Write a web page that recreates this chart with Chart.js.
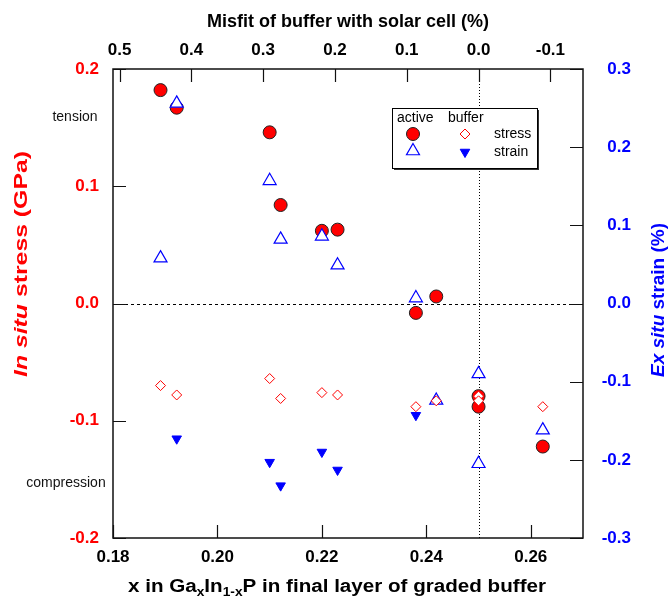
<!DOCTYPE html>
<html><head><meta charset="utf-8">
<script src="https://cdn.jsdelivr.net/npm/chart.js@4.4.1/dist/chart.umd.min.js"></script>
<style>html,body{margin:0;padding:0;background:#fff;}</style>
</head><body>
<canvas id="c" width="668" height="601"></canvas>
<script>
// ---- data ----
const activeStressX = [0.1891, 0.1922, 0.2100, 0.2121, 0.2200, 0.2230, 0.2380, 0.2419, 0.2500, 0.2500, 0.2623];
const activeStressY = [0.182, 0.167, 0.146, 0.084, 0.062, 0.063, -0.008, 0.006, -0.079, -0.088, -0.122]; // GPa
const activeStrainX = [0.1891, 0.1922, 0.2100, 0.2121, 0.2200, 0.2230, 0.2380, 0.2419, 0.2500, 0.2500, 0.2623];
const activeStrainY = [0.058, 0.256, 0.157, 0.082, 0.086, 0.049, 0.007, -0.124, -0.090, -0.205, -0.162]; // %
const bufferStressX = [0.1891, 0.1922, 0.2100, 0.2121, 0.2200, 0.2230, 0.2380, 0.2419, 0.2500, 0.2500, 0.2623];
const bufferStressY = [-0.070, -0.078, -0.064, -0.081, -0.076, -0.078, -0.088, -0.083, -0.079, -0.083, -0.088]; // GPa
const bufferStrainX = [0.1922, 0.2100, 0.2121, 0.2200, 0.2230, 0.2380];
const bufferStrainY = [-0.173, -0.203, -0.233, -0.190, -0.213, -0.143]; // %

// axis ranges / tick steps
const xRange = [0.18, 0.27];
const xStep = 0.02;
const stressRange = [-0.2, 0.2];
const strainRange = [-0.3, 0.3];
const yStep = 0.1;
// top axis: misfit (%) vs composition x (misfit 0 at x = 0.25, 0.1375 x per 1 %)
const misfitZeroX = 0.25;
const xPerMisfitPercent = 0.1375;
const misfitStep = 0.1;
const misfitOf = x => (misfitZeroX - x) / xPerMisfitPercent;

const pts = (xs, ys) => xs.map((x, i) => ({x: x, y: ys[i]}));
const FONT = "'Liberation Sans', Arial, Helvetica, sans-serif";
Chart.defaults.font.family = FONT;

const fmt = d => v => (Math.abs(v) < 1e-9 ? 0 : v).toFixed(d);

// draws a run of text segments with different fonts, optionally stretched to a width
function drawRich(ctx, segs, cx, cy, rot, color, targetW) {
  ctx.save();
  ctx.translate(cx, cy);
  if (rot) ctx.rotate(rot);
  ctx.fillStyle = color;
  ctx.textBaseline = 'alphabetic';
  ctx.textAlign = 'left';
  let w = 0;
  segs.forEach(s => { ctx.font = s.f; w += ctx.measureText(s.t).width; });
  if (targetW) ctx.scale(targetW / w, 1);
  let x = -w / 2;
  segs.forEach(s => { ctx.font = s.f; ctx.fillText(s.t, x, s.dy || 0); x += ctx.measureText(s.t).width; });
  ctx.restore();
}

const decor = {
  id: 'decor',
  beforeDatasetsDraw(chart) {
    const ctx = chart.ctx, a = chart.chartArea, sx = chart.scales.x, sy = chart.scales.y;
    ctx.save();
    ctx.strokeStyle = '#000';
    ctx.lineWidth = 1;
    ctx.setLineDash([3, 3]);
    const y0 = Math.round(sy.getPixelForValue(0)) + 0.5;
    ctx.beginPath(); ctx.moveTo(a.left, y0); ctx.lineTo(a.right, y0); ctx.stroke();
    ctx.setLineDash([1, 2]);
    const x0 = Math.round(sx.getPixelForValue(misfitZeroX)) + 0.5;
    ctx.beginPath(); ctx.moveTo(x0, a.top); ctx.lineTo(x0, a.bottom); ctx.stroke();
    ctx.restore();
  },
  afterDraw(chart) {
    const ctx = chart.ctx, a = chart.chartArea;
    ctx.save();
    // frame
    ctx.strokeStyle = '#111';
    ctx.lineWidth = 1.5;
    ctx.strokeRect(a.left, a.top, a.right - a.left, a.bottom - a.top);
    // inward tick marks
    const TL = 13;
    ctx.lineWidth = 1.2;
    ctx.beginPath();
    ['x', 'x2'].forEach(id => {
      const s = chart.scales[id];
      s.ticks.forEach(t => {
        const p = Math.round(s.getPixelForValue(t.value)) + 0.5;
        if (id === 'x') { ctx.moveTo(p, a.bottom); ctx.lineTo(p, a.bottom - TL); }
        else { ctx.moveTo(p, a.top); ctx.lineTo(p, a.top + TL); }
      });
    });
    ['y', 'y2'].forEach(id => {
      const s = chart.scales[id];
      s.ticks.forEach(t => {
        const p = Math.round(s.getPixelForValue(t.value)) + 0.5;
        if (id === 'y') { ctx.moveTo(a.left, p); ctx.lineTo(a.left + TL, p); }
        else { ctx.moveTo(a.right, p); ctx.lineTo(a.right - TL, p); }
      });
    });
    ctx.stroke();

    // axis titles
    const B = 'bold 18px ' + FONT, BI = 'italic bold 18px ' + FONT, BS = 'bold 12px ' + FONT;
    drawRich(ctx, [{t: 'Misfit of buffer with solar cell (%)', f: B}], (a.left + a.right) / 2, 27, 0, '#000');
    drawRich(ctx, [
      {t: 'x in Ga', f: B}, {t: 'x', f: BS, dy: 4}, {t: 'In', f: B}, {t: '1-x', f: BS, dy: 4},
      {t: 'P in final layer of graded buffer', f: B}], 337, 592, 0, '#000', 418);
    drawRich(ctx, [{t: 'In situ', f: BI}, {t: ' stress (GPa)', f: B}], 27, 264, -Math.PI / 2, '#ff0000', 226);
    drawRich(ctx, [{t: 'Ex situ', f: BI}, {t: ' strain (%)', f: B}], 664, 300, -Math.PI / 2, '#0000ff', 154);

    // annotations
    ctx.fillStyle = '#111';
    ctx.font = '14px ' + FONT;
    ctx.textAlign = 'center';
    ctx.textBaseline = 'middle';
    ctx.fillText('tension', 75, 117);
    ctx.fillText('compression', 66, 483);

    // legend box
    const L = 392, T = 108, R = 537, Bt = 168;
    ctx.fillStyle = '#333';
    ctx.fillRect(L + 2, T + 2, R - L, Bt - T);
    ctx.fillStyle = '#fff';
    ctx.fillRect(L, T, R - L, Bt - T);
    ctx.strokeStyle = '#000';
    ctx.lineWidth = 1;
    ctx.strokeRect(L + 0.5, T + 0.5, R - L, Bt - T);
    ctx.fillStyle = '#000';
    ctx.font = '14px ' + FONT;
    ctx.textAlign = 'left';
    ctx.fillText('active', 397, 118);
    ctx.fillText('buffer', 448, 118);
    ctx.fillText('stress', 494, 134);
    ctx.fillText('strain', 494, 152);
    const ds = chart.data.datasets;
    const sym = (d, x, y) => {
      ctx.fillStyle = d.backgroundColor; ctx.strokeStyle = d.borderColor; ctx.lineWidth = d.borderWidth;
      Chart.helpers.drawPoint(ctx, {pointStyle: d.pointStyle, radius: d.pointRadius, rotation: d.rotation || 0, borderWidth: d.borderWidth}, x, y);
    };
    sym(ds[0], 413, 134);
    sym(ds[2], 465, 134);
    sym(ds[1], 413, 151);
    sym(ds[3], 465, 152);
    ctx.restore();
  }
};

new Chart(document.getElementById('c'), {
  type: 'scatter',
  data: {
    datasets: [
      {label: 'active stress', data: pts(activeStressX, activeStressY), yAxisID: 'y', order: 4,
       pointStyle: 'circle', pointRadius: 6.5, backgroundColor: '#ff0000', borderColor: '#222', borderWidth: 1},
      {label: 'active strain', data: pts(activeStrainX, activeStrainY), yAxisID: 'y2', order: 3,
       pointStyle: 'triangle', pointRadius: 7.5, backgroundColor: '#ffffff', borderColor: '#0000ff', borderWidth: 1.2},
      {label: 'buffer stress', data: pts(bufferStressX, bufferStressY), yAxisID: 'y', order: 2,
       pointStyle: 'rectRot', pointRadius: 5, backgroundColor: '#ffffff', borderColor: '#ff0000', borderWidth: 1},
      {label: 'buffer strain', data: pts(bufferStrainX, bufferStrainY), yAxisID: 'y2', order: 1,
       pointStyle: 'triangle', rotation: 180, pointRadius: 5.5, backgroundColor: '#0000ff', borderColor: '#0000ff', borderWidth: 1}
    ]
  },
  options: {
    responsive: false,
    animation: false,
    events: [],
    layout: {padding: {left: 0, right: 37, top: 0, bottom: 0}},
    plugins: {legend: {display: false}, tooltip: {enabled: false}},
    elements: {point: {hoverRadius: 0}},
    scales: {
      x: {type: 'linear', position: 'bottom', min: xRange[0], max: xRange[1],
          grid: {display: false}, border: {display: false},
          ticks: {stepSize: xStep, includeBounds: false, color: '#000', padding: 1, maxRotation: 0,
                  font: {size: 17, weight: 'bold'}, callback: fmt(2)},
          afterFit: s => { s.height = 63; }},
      x2: {type: 'linear', position: 'top', reverse: true, min: misfitOf(xRange[1]), max: misfitOf(xRange[0]),
           grid: {display: false}, border: {display: false},
           ticks: {stepSize: misfitStep, includeBounds: false, color: '#000', padding: 0, maxRotation: 0,
                   font: {size: 17, weight: 'bold'}, callback: fmt(1)},
           afterFit: s => { s.height = 69; }},
      y: {type: 'linear', position: 'left', min: stressRange[0], max: stressRange[1],
          grid: {display: false}, border: {display: false},
          ticks: {stepSize: yStep, includeBounds: false, color: '#ff0000', padding: 6,
                  font: {size: 17, weight: 'bold'}, callback: fmt(1)},
          afterFit: s => { s.width = 113; }},
      y2: {type: 'linear', position: 'right', min: strainRange[0], max: strainRange[1],
           grid: {display: false}, border: {display: false},
           ticks: {stepSize: yStep, includeBounds: false, color: '#0000ff', padding: 13, crossAlign: 'far',
                   font: {size: 17, weight: 'bold'}, callback: fmt(1)},
           afterFit: s => { s.width = 48; }}
    }
  },
  plugins: [decor]
});
</script>
</body></html>
